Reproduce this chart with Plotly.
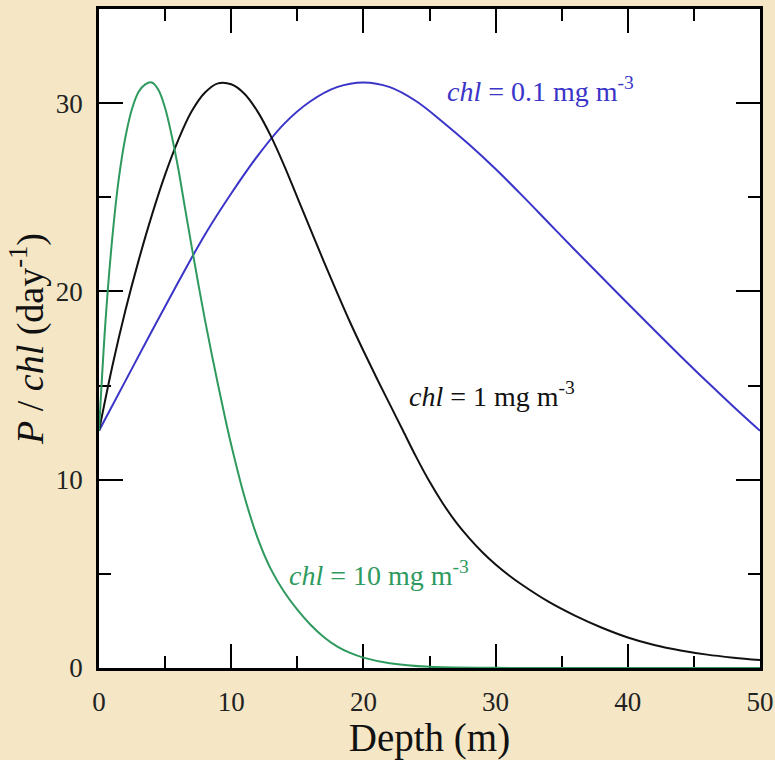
import plotly.graph_objects as go

# Depth (m) and P/chl (day^-1) profiles for three chlorophyll levels
depth_low = [0, 2, 4, 6, 8, 10, 12, 14, 16, 18, 20, 22, 24, 26, 28, 30, 32, 34, 36, 38, 40, 42, 44, 46, 48, 50]
pchl_low = [12.6, 15.25, 17.9, 20.5, 23.0, 25.2, 27.2, 28.9, 30.1, 30.85, 31.1, 30.85, 30.1, 29.0, 27.8,
            26.5, 25.1, 23.65, 22.2, 20.78, 19.36, 17.95, 16.56, 15.2, 13.88, 12.6]

depth_mid = [0, 1, 2, 3, 4, 5, 6, 7, 8, 9, 10, 11, 12, 13, 14, 15, 16, 17, 18, 19, 20, 21, 22, 23, 24,
             25, 26, 27, 28, 29, 30, 31, 32, 34, 36, 38, 40, 42, 44, 46, 48, 50]
pchl_mid = [12.6, 16.0, 19.0, 21.65, 24.05, 26.2, 28.05, 29.55, 30.55, 31.05, 31.0, 30.5, 29.55, 28.25,
            26.7, 25.0, 23.3, 21.6, 19.95, 18.35, 16.85, 15.4, 14.0, 12.6, 11.2, 9.9, 8.75, 7.75, 6.9,
            6.15, 5.5, 4.93, 4.42, 3.52, 2.78, 2.15, 1.62, 1.22, 0.93, 0.71, 0.55, 0.42]

depth_high = [0, 0.5, 1, 1.5, 2, 2.5, 3, 3.5, 4, 4.5, 5, 5.5, 6, 6.5, 7, 7.5, 8, 8.5, 9, 9.5, 10, 11, 12,
              13, 14, 15, 16, 17, 18, 19, 20, 22, 25, 30, 35, 50]
pchl_high = [12.6, 18.5, 22.8, 26.0, 28.2, 29.7, 30.6, 31.0, 31.1, 30.7, 29.74, 28.27, 26.5, 24.45,
             22.42, 20.45, 18.54, 16.76, 15.06, 13.41, 11.86, 9.11, 6.9, 5.25, 4.05, 3.1, 2.3, 1.65,
             1.15, 0.8, 0.55, 0.25, 0.06, 0.01, 0.0, 0.0]

BLUE = "#3A35C8"
GREEN = "#2E9A5E"
BLACK = "#111111"
SERIF = "Liberation Serif, Times New Roman, serif"

fig = go.Figure()
for xs, ys, col in [(depth_low, pchl_low, BLUE), (depth_mid, pchl_mid, BLACK), (depth_high, pchl_high, GREEN)]:
    fig.add_trace(go.Scatter(x=xs, y=ys, mode="lines", hoverinfo="x+y",
                             line=dict(color=col, width=2, shape="spline", smoothing=1.0)))

labels = [
    (26.2, 30.7, "<i>chl</i> = 0.1 mg m<sup>-3</sup>", BLUE),
    (23.3, 14.5, "<i>chl</i> = 1 mg m<sup>-3</sup>", BLACK),
    (14.2, 5.0, "<i>chl</i> = 10 mg m<sup>-3</sup>", GREEN),
]
for x, y, txt, col in labels:
    fig.add_annotation(x=x, y=y, text=txt, showarrow=False, xanchor="left", yanchor="middle",
                       font=dict(family=SERIF, size=28, color=col))

axis_common = dict(
    showgrid=False, zeroline=False, showline=True, linecolor="black", linewidth=2.5,
    mirror="ticks", ticks="inside", ticklen=24, tickwidth=2, tickcolor="black",
    tickfont=dict(family=SERIF, size=27, color="#222222"),
    layer="below traces", automargin=False,
)
minor_ticks = dict(dtick=5, ticks="inside", ticklen=12, tickwidth=2, tickcolor="black")

fig.update_xaxes(range=[0, 50], dtick=10, tick0=0, minor=minor_ticks, ticklabelstandoff=8,
                 title=dict(text="Depth (m)", font=dict(family=SERIF, size=39, color="#111111"),
                            standoff=6),
                 **axis_common)
fig.update_yaxes(range=[0, 35], dtick=10, tick0=0, minor=minor_ticks, ticklabelstandoff=8,
                 title=dict(text="<i>P</i> / <i>chl</i> (day<sup>-1</sup>)",
                            font=dict(family=SERIF, size=38, color="#111111"), standoff=1),
                 **axis_common)

fig.update_layout(
    width=775, height=760,
    margin=dict(l=99, r=15, t=9, b=92),
    paper_bgcolor="#F5E7C6",
    plot_bgcolor="white",
    showlegend=False,
)

fig.write_html("out.html")
